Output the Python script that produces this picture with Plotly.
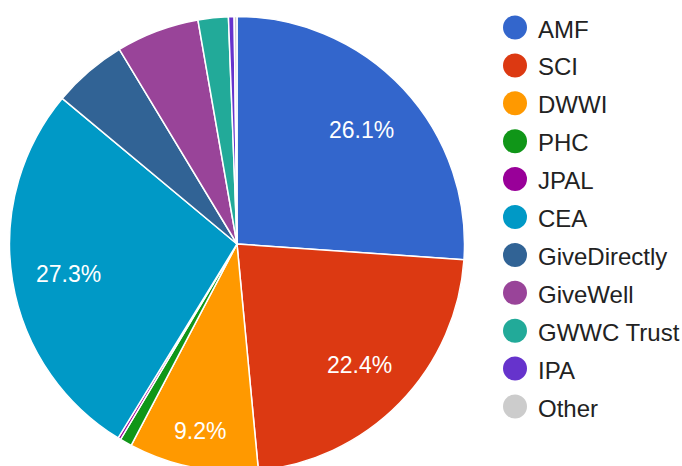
import math
import plotly.graph_objects as go

# Data
labels = ["AMF", "SCI", "DWWI", "PHC", "JPAL", "CEA", "GiveDirectly",
          "GiveWell", "GWWC Trust", "IPA", "Other"]
values = [26.1, 22.4, 9.2, 0.85, 0.2, 27.3, 5.3, 5.9, 2.15, 0.4, 0.2]
colors = ["#3366cc", "#dc3912", "#ff9900", "#109618", "#990099", "#0099c6",
          "#316395", "#994499", "#22aa99", "#6633cc", "#cccccc"]

W, H = 682, 472
FONT = "Liberation Sans, Arial, sans-serif"

# pie geometry in pixels
cx, cy, r = 237.0, 244.0, 227.5

fig = go.Figure()
fig.add_trace(go.Pie(
    labels=labels,
    values=values,
    sort=False,
    direction="clockwise",
    rotation=0,
    marker=dict(colors=colors, line=dict(color="white", width=1.5)),
    textinfo="none",
    showlegend=False,
    hoverinfo="label+percent",
    domain=dict(x=[(cx - r) / W, (cx + r) / W],
                y=[1 - (cy + r) / H, 1 - (cy - r) / H]),
))

annotations, shapes = [], []

# Percentage labels inside the larger slices (positions derived from the data)
total = sum(values)
cum = 0.0
for v in values:
    frac = v / total
    if frac >= 0.08:
        mid = 2 * math.pi * (cum + frac / 2)
        rf = 0.75 if frac > 0.15 else 0.83
        px = cx + rf * r * math.sin(mid)
        py = cy - rf * r * math.cos(mid)
        annotations.append(dict(text=f"{frac * 100:.1f}%", xref="paper", yref="paper",
                                x=px / W, y=1 - py / H, xanchor="center", yanchor="middle",
                                yshift=-2, showarrow=False,
                                font=dict(size=23, color="white", family=FONT)))
    cum += frac

# Legend (circles + labels)
leg_x, leg_y0, leg_dy, rad = 515, 27.5, 37.9, 12
for i, (lab, col) in enumerate(zip(labels, colors)):
    y = leg_y0 + i * leg_dy
    shapes.append(dict(type="circle", xref="paper", yref="paper",
                       x0=(leg_x - rad) / W, x1=(leg_x + rad) / W,
                       y0=1 - (y + rad) / H, y1=1 - (y - rad) / H,
                       fillcolor=col, line=dict(width=0)))
    annotations.append(dict(text=lab, xref="paper", yref="paper",
                            x=536 / W, y=1 - y / H, xanchor="left", yanchor="middle",
                            yshift=-1.5, showarrow=False,
                            font=dict(size=24, color="#222222", family=FONT)))

fig.update_layout(
    width=W, height=H,
    margin=dict(l=0, r=0, t=0, b=0),
    paper_bgcolor="white",
    plot_bgcolor="white",
    shapes=shapes,
    annotations=annotations,
)

fig.write_html("out.html", config={"displayModeBar": False},
               post_script="document.body.style.margin='0';document.body.style.overflow='hidden';")
